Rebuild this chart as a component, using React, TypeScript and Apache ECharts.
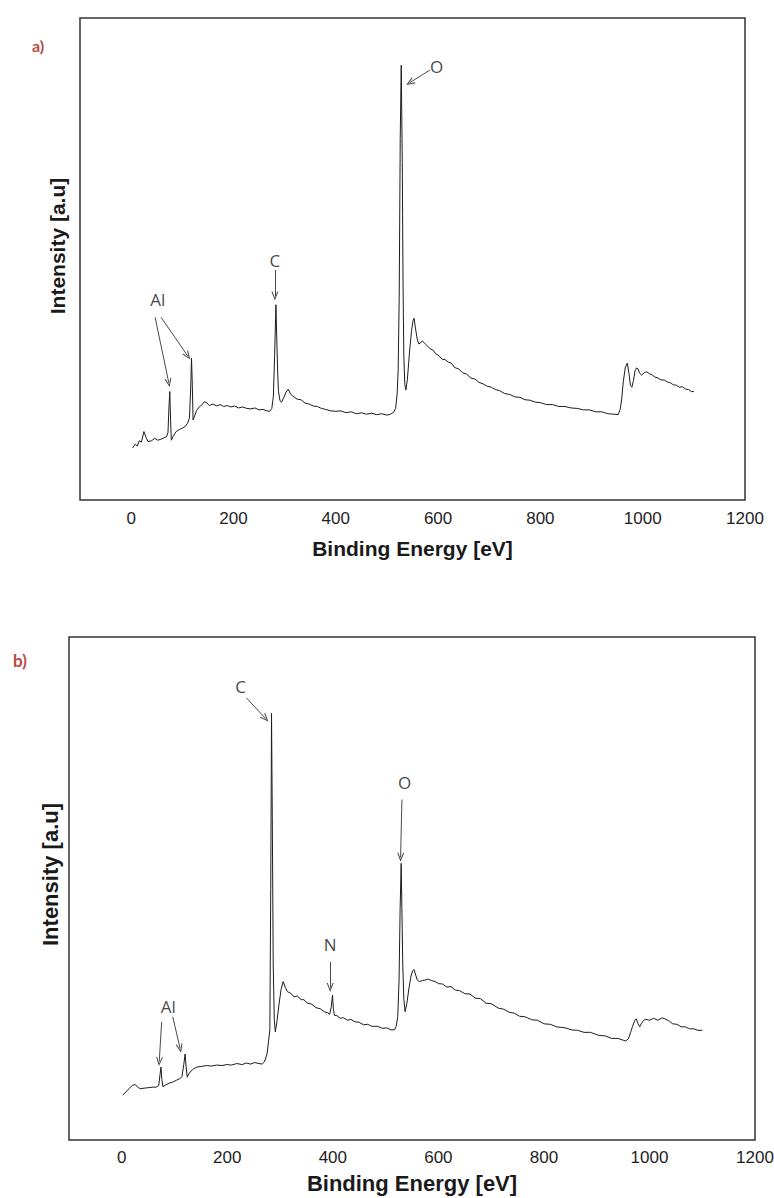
import React, { useEffect, useRef } from "react";
import * as echarts from "echarts";

// ---------- Panel a) ----------
const energyA = [3, 8, 12, 16, 20, 25, 29, 33, 40, 46, 52, 58, 64, 69, 72, 74, 75.5, 77, 78.5, 82, 88, 94, 100, 106, 110, 114, 116.5, 118, 119.5, 121, 124, 128, 133, 138, 143, 148, 153, 160, 167, 174, 181, 188, 195, 202, 210, 218, 226, 234, 242, 250, 258, 265, 271, 275, 278, 280.5, 283, 285, 286.5, 288, 291, 294, 299, 303, 307, 312, 318, 325, 332, 340, 348, 356, 364, 372, 380, 390, 400, 410, 420, 430, 440, 450, 460, 470, 480, 490, 500, 507, 513, 517, 520, 522, 524, 526, 528, 530, 531.5, 533, 535, 537, 540, 544, 548, 551, 553, 556, 559, 562, 565, 569, 573, 578, 584, 590, 596, 602, 608, 614, 620, 626, 632, 640, 648, 656, 664, 672, 680, 688, 696, 704, 712, 720, 730, 740, 750, 760, 770, 780, 790, 800, 812, 824, 836, 848, 860, 872, 884, 896, 908, 920, 932, 944, 952, 956, 959, 962, 966, 970, 973.5, 976, 979, 982, 985, 988, 991, 994, 998, 1003, 1008, 1013, 1018, 1024, 1030, 1036, 1042, 1048, 1054, 1060, 1066, 1072, 1078, 1084, 1090, 1095, 1100];
const intensityA = [10.8, 11.6, 11.2, 12.3, 12.0, 14.2, 13.0, 12.1, 12.3, 12.8, 12.4, 12.6, 12.9, 13.1, 14.0, 19.5, 22.5, 17.0, 12.4, 13.2, 14.2, 14.6, 14.9, 15.3, 15.9, 17.0, 23.5, 29.4, 24.0, 16.6, 17.4, 18.6, 19.3, 19.7, 20.4, 20.1, 19.6, 19.9, 19.5, 19.8, 19.4, 19.6, 19.3, 19.5, 19.1, 19.3, 19.0, 18.9, 19.1, 18.7, 18.8, 18.5, 18.4, 19.0, 21.5, 30.0, 40.5, 32.0, 26.3, 22.5, 20.6, 20.3, 21.4, 22.4, 23.0, 21.9, 21.4, 20.9, 20.8, 20.1, 19.9, 19.5, 19.4, 19.0, 18.8, 18.5, 18.4, 18.5, 18.1, 18.3, 17.9, 18.1, 17.8, 18.0, 17.7, 17.9, 17.6, 17.8, 18.2, 19.0, 22.0, 27.0, 42.0, 75.0, 90.2, 70.0, 45.0, 30.0, 24.0, 22.8, 25.0, 30.5, 35.0, 37.2, 37.7, 35.5, 33.5, 32.4, 32.5, 33.0, 32.6, 32.1, 31.4, 31.1, 30.3, 29.9, 29.2, 29.1, 28.6, 28.4, 27.5, 27.2, 26.4, 26.1, 25.3, 25.1, 24.4, 24.1, 23.6, 23.4, 22.9, 22.7, 22.1, 21.9, 21.4, 21.3, 20.8, 20.7, 20.3, 20.2, 19.8, 19.8, 19.4, 19.4, 19.1, 19.0, 18.7, 18.7, 18.3, 18.3, 17.9, 17.8, 17.7, 18.8, 21.0, 24.5, 27.5, 28.4, 26.0, 23.8, 23.4, 24.8, 26.8, 27.4, 27.2, 26.3, 25.9, 26.4, 26.6, 26.2, 26.0, 25.5, 25.3, 24.9, 24.9, 24.5, 24.3, 23.9, 23.8, 23.4, 23.5, 23.0, 22.9, 22.5, 22.5];

// ---------- Panel b) ----------
const energyB = [2, 8, 14, 20, 26, 30, 35, 42, 50, 58, 65, 70, 72.5, 74.3, 76, 78, 84, 90, 96, 104, 110, 114, 117.5, 120, 122, 124, 128, 134, 142, 150, 160, 170, 180, 190, 199, 208, 218, 228, 236, 244, 252, 260, 266, 270, 273, 275.6, 278, 280.6, 282.3, 283.8, 285.5, 287, 289, 291, 294, 298, 302, 306, 310, 313.7, 320, 326, 333, 340, 345, 352, 360, 368, 376, 384, 390, 394, 397, 399.4, 401, 403, 408, 414, 420, 428, 434, 442, 450, 458, 466, 474, 485, 494, 502, 510, 517, 520, 523, 525.5, 527.5, 529.5, 531, 532.5, 534.5, 537, 540, 544, 548, 551, 553.7, 557, 560, 564, 570, 575, 580, 587, 594, 600, 608, 616, 624, 632, 640, 650, 660, 670, 680, 690, 700, 714, 724, 734, 744, 754, 764, 777, 788, 800, 812, 824, 840, 852, 864, 876, 888, 904, 916, 928, 940, 948.6, 955, 960, 964, 968, 972, 975, 978, 981.5, 985, 989, 993, 1000, 1008, 1016, 1024, 1031, 1038, 1044, 1052, 1060, 1068, 1076, 1084, 1092, 1100];
const intensityB = [8.9, 9.6, 10.2, 10.9, 11.0, 10.5, 10.2, 10.3, 10.4, 10.5, 10.5, 10.8, 13.0, 14.5, 12.0, 10.6, 11.0, 11.3, 11.5, 11.9, 12.2, 12.6, 15.0, 17.1, 14.5, 12.5, 13.3, 14.0, 14.5, 14.6, 14.8, 14.7, 14.9, 14.8, 15.0, 14.9, 15.2, 15.0, 15.3, 15.1, 15.4, 15.2, 15.1, 15.5, 16.3, 17.3, 19.5, 21.9, 50.0, 84.8, 60.0, 35.0, 24.0, 21.5, 23.5, 27.0, 30.0, 31.5, 30.3, 29.5, 29.2, 28.5, 28.6, 27.9, 27.9, 27.2, 27.0, 26.3, 26.1, 25.5, 25.3, 25.0, 26.5, 28.8, 26.0, 24.8, 24.7, 24.2, 24.3, 23.8, 24.0, 23.5, 23.4, 22.9, 23.0, 22.6, 22.6, 22.2, 22.3, 21.9, 21.9, 22.6, 24.5, 32.0, 46.0, 55.0, 45.0, 35.0, 28.0, 25.5, 27.0, 30.0, 32.5, 33.6, 33.9, 32.8, 31.8, 31.5, 31.7, 31.8, 32.0, 31.7, 31.5, 31.1, 31.0, 30.4, 30.5, 29.8, 29.7, 29.1, 29.0, 28.2, 28.1, 27.2, 27.1, 26.2, 26.0, 25.4, 25.2, 24.6, 24.5, 23.9, 23.8, 23.1, 23.0, 22.5, 22.3, 21.9, 21.8, 21.4, 21.4, 20.8, 20.7, 20.2, 20.2, 19.9, 19.7, 20.1, 21.3, 22.6, 23.7, 24.1, 23.2, 22.5, 23.2, 23.8, 24.0, 23.8, 24.2, 23.8, 24.3, 24.0, 23.6, 23.1, 23.0, 22.5, 22.5, 22.1, 22.1, 21.8, 21.8];

// Peak labels [energy, intensity, text]
const labelsA: [number, number, string][] = [
  [52, 41.5, "Al"],
  [281, 49.6, "C"],
  [597, 90.0, "O"],
];
const labelsB: [number, number, string][] = [
  [88, 26.6, "Al"],
  [225, 90.1, "C"],
  [395, 38.8, "N"],
  [536, 71.0, "O"],
];
// Arrows [x1, y1, x2, y2] (from -> to)
const arrowsA: [number, number, number, number][] = [
  [46.8, 37.9, 73.6, 24.3],
  [58.5, 37.9, 110.6, 29.9],
  [281, 47.7, 281, 42.3],
  [584, 89.2, 545, 86.6],
];
const arrowsB: [number, number, number, number][] = [
  [75.6, 23.5, 71, 15.6],
  [96.6, 24.5, 110.5, 18.2],
  [236.2, 87.9, 272.4, 83.8],
  [394.9, 35.4, 394.9, 30.3],
  [530.9, 67.7, 528.4, 56.2],
];
const xTickValues = [0, 200, 400, 600, 800, 1000, 1200];

const ARROW = "path://M0,10 L5,0 L10,10 L8.4,10 L5,3.2 L1.6,10 Z";

export default function App() {
  const ref = useRef<HTMLDivElement>(null);
  useEffect(() => {
    if (!ref.current) return;
    const chart = echarts.init(ref.current, undefined, { renderer: "svg" });

    const mkX = (idx: number, nameSize: number, nameGap: number, labelMargin: number) => ({
      type: "value",
      gridIndex: idx,
      min: -100,
      max: 1200,
      interval: 100,
      name: "Binding Energy [eV]",
      nameLocation: "middle",
      nameGap,
      nameTextStyle: { fontFamily: "Liberation Sans", fontSize: nameSize, fontWeight: "bold", color: "#1a1a1a" },
      axisLine: { show: false },
      axisTick: { show: false },
      splitLine: { show: false },
      axisLabel: {
        margin: labelMargin,
        fontFamily: "Liberation Sans",
        fontSize: 17,
        color: "#1e1e1e",
        showMinLabel: true,
        showMaxLabel: true,
        hideOverlap: false,
        formatter: (v: number) => (xTickValues.includes(v) ? String(v) : ""),
      },
    });
    const mkY = (idx: number, nameSize: number, nameGap: number, shift: number) => ({
      type: "value",
      gridIndex: idx,
      min: 0,
      max: 100,
      name: "Intensity [a.u]",
      nameLocation: "middle",
      nameGap,
      nameTextStyle: {
        fontFamily: "Liberation Sans",
        fontSize: nameSize,
        fontWeight: "bold",
        color: "#1a1a1a",
        padding: [0, 0, 0, shift],
      },
      axisLine: { show: false },
      axisTick: { show: false },
      axisLabel: { show: false },
      splitLine: { show: false },
    });

    const lineSeries = (idx: number, xs: number[], ys: number[], arrows: [number, number, number, number][]) => ({
      type: "line",
      xAxisIndex: idx,
      yAxisIndex: idx,
      data: xs.map((x, i) => [x, ys[i]]),
      showSymbol: false,
      symbol: "none",
      silent: true,
      lineStyle: { color: "#1c1c1c", width: 1 },
      markLine: {
        silent: true,
        symbol: ["none", ARROW],
        symbolSize: [7, 9],
        label: { show: false },
        lineStyle: { color: "#4a4a4a", width: 1, type: "solid" },
        emphasis: { disabled: true },
        data: arrows.map((a) => [{ coord: [a[0], a[1]] }, { coord: [a[2], a[3]] }]),
      },
    });
    const labelSeries = (idx: number, labels: [number, number, string][]) => ({
      type: "scatter",
      xAxisIndex: idx,
      yAxisIndex: idx,
      silent: true,
      symbol: "circle",
      symbolSize: 1,
      itemStyle: { color: "rgba(0,0,0,0)" },
      label: {
        show: true,
        position: "inside",
        formatter: "{b}",
        fontFamily: "Open Sans",
        fontSize: 17,
        color: "#111111",
      },
      data: labels.map((l) => ({ name: l[2], value: [l[0], l[1]] })),
    });

    const option = {
      animation: false,
      backgroundColor: "#ffffff",
      grid: [
        { left: 80, top: 18, width: 665, height: 482, show: true, borderColor: "#333", borderWidth: 1.5, backgroundColor: "transparent", outerBoundsMode: "none" },
        { left: 69, top: 637, width: 686, height: 503, show: true, borderColor: "#333", borderWidth: 1.5, backgroundColor: "transparent", outerBoundsMode: "none" },
      ],
      xAxis: [mkX(0, 21, 38, 10), mkX(1, 22, 32, 9)],
      yAxis: [mkY(0, 21, 12, 26), mkY(1, 22, 8, 28)],
      series: [
        lineSeries(0, energyA, intensityA, arrowsA),
        labelSeries(0, labelsA),
        lineSeries(1, energyB, intensityB, arrowsB),
        labelSeries(1, labelsB),
      ],
      graphic: [
        { type: "text", x: 38, y: 45, style: { text: "a)", fill: "#b94a45", font: "bold 16px Lato", textAlign: "center", textVerticalAlign: "middle" } },
        { type: "text", x: 20, y: 660, style: { text: "b)", fill: "#b94a45", font: "bold 17px Lato", textAlign: "center", textVerticalAlign: "middle" } },
      ],
    };
    chart.setOption(option as any);
    return () => chart.dispose();
  }, []);
  return (
    <div
      ref={ref}
      style={{ position: "absolute", left: 0, top: 0, width: 774, height: 1198, background: "#fff" }}
    />
  );
}
